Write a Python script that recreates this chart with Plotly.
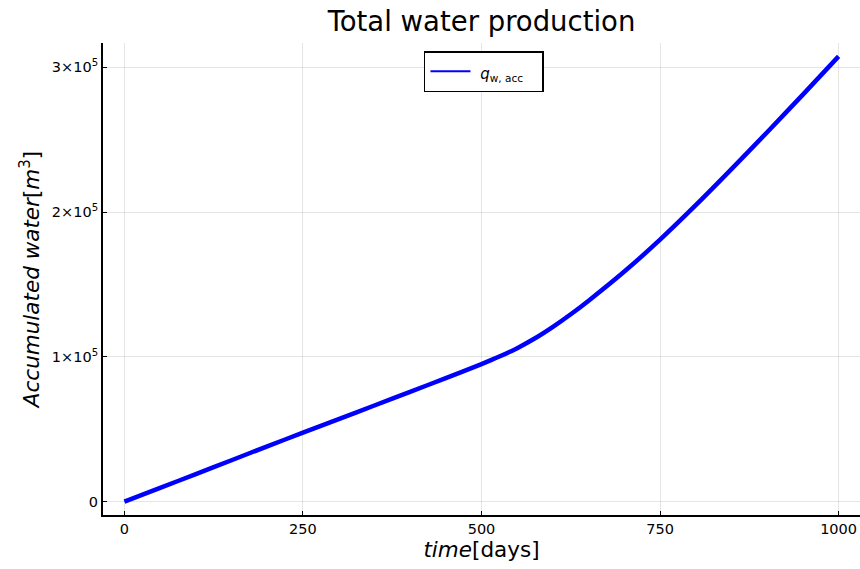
import plotly.graph_objects as go

time_days = [0, 50, 100, 150, 200, 250, 300, 350, 400, 450, 500, 525, 550, 575, 600,
             625, 650, 700, 750, 800, 850, 900, 950, 1000]
acc_water = [0, 9500, 19000, 28600, 38200, 47600, 57000, 66400, 75800, 85300, 95000,
             100200, 106000, 112800, 120700, 129400, 138800, 158900, 180900, 204700,
             229600, 255100, 281100, 307500]

y_tickvals = [0, 100000, 200000, 300000]
y_ticktext = ["0", "1×10<sup>5</sup>", "2×10<sup>5</sup>", "3×10<sup>5</sup>"]
x_tickvals = [0, 250, 500, 750, 1000]
series_name = "<i>q</i><sub>w, acc</sub>"

fig = go.Figure()
fig.add_trace(go.Scatter(
    x=time_days, y=acc_water, mode="lines",
    line=dict(color="#0000FF", width=4.5, shape="spline", smoothing=0.8),
    name=series_name, showlegend=False,
))
# legend entry (thin sample line as in the reference)
fig.add_trace(go.Scatter(
    x=[None], y=[None], mode="lines",
    line=dict(color="#0000FF", width=2),
    name='<span style="font-size:15px">&nbsp;' + series_name + '&nbsp;&nbsp;&nbsp;</span>',
    showlegend=True,
))

axis_common = dict(
    showline=True, linecolor="black", linewidth=2, mirror=False,
    ticks="inside", ticklen=4, tickcolor="black", tickwidth=1,
    showgrid=True, gridcolor="rgba(0,0,0,0.1)", gridwidth=1,
    zeroline=False,
    tickfont=dict(size=14.5, color="black", family="DejaVu Sans"),
)

fig.update_layout(
    width=860, height=569,
    margin=dict(l=103, r=0, t=43, b=54),
    paper_bgcolor="white", plot_bgcolor="white",
    font=dict(family="DejaVu Sans", color="black"),
    title=dict(text="Total water production", x=(103 + 757 / 2) / 860, xanchor="center",
               y=0.963, yanchor="middle", font=dict(size=27.5, color="black")),
    xaxis=dict(range=[-30, 1030], tickvals=x_tickvals,
               title=dict(text="<i>time</i>[days]", font=dict(size=21.5), standoff=4),
               **axis_common),
    yaxis=dict(range=[-9225, 316725], tickvals=y_tickvals, ticktext=y_ticktext,
               title=dict(text="<i>Accumulated water</i>[<i>m</i><sup>3</sup>]", font=dict(size=21.5), standoff=6),
               **axis_common),
    legend=dict(x=0.424, y=0.983, xanchor="left", yanchor="top",
                bordercolor="black", borderwidth=1.5, bgcolor="white",
                font=dict(size=19, color="black"), itemwidth=40),
    showlegend=True,
)

fig.write_html("out.html")
